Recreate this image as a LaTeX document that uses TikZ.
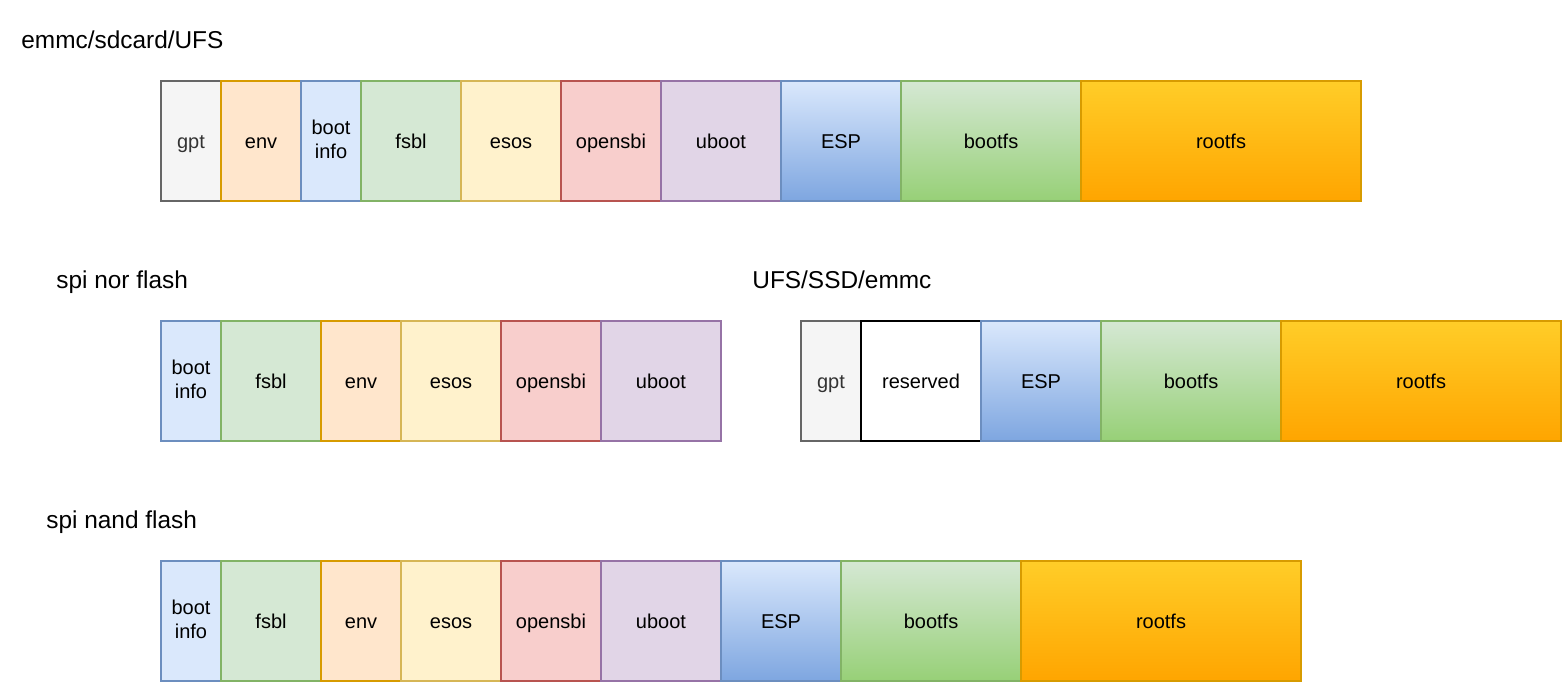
\documentclass[tikz,border=0pt]{standalone}
\usepackage{fontspec}
\setmainfont{Liberation Sans}
\usepackage{tikz}
\usetikzlibrary{positioning}

\definecolor{gptfill}{HTML}{F5F5F5}\definecolor{gptline}{HTML}{666666}\definecolor{gpttext}{HTML}{333333}
\definecolor{envfill}{HTML}{FFE6CC}\definecolor{envline}{HTML}{D79B00}
\definecolor{infofill}{HTML}{DAE8FC}\definecolor{infoline}{HTML}{6C8EBF}
\definecolor{fsblfill}{HTML}{D5E8D4}\definecolor{fsblline}{HTML}{82B366}
\definecolor{esosfill}{HTML}{FFF2CC}\definecolor{esosline}{HTML}{D6B656}
\definecolor{sbifill}{HTML}{F8CECC}\definecolor{sbiline}{HTML}{B85450}
\definecolor{ubootfill}{HTML}{E1D5E7}\definecolor{ubootline}{HTML}{9673A6}
\definecolor{espbot}{HTML}{7EA6E0}
\definecolor{bootfsbot}{HTML}{97D077}
\definecolor{roottop}{HTML}{FFCD28}\definecolor{rootbot}{HTML}{FFA500}

\newcommand{\partstrut}{\rule[-2.1pt]{0pt}{12pt}}

\begin{document}
\begin{tikzpicture}[x=0.5pt,y=-0.5pt,node distance=0pt,
            part/.style={draw,rectangle,line width=1pt,minimum height=60pt,inner sep=0pt,
              outer sep=0pt,align=center,font=\fontsize{10}{12}\selectfont,
              execute at begin node=\partstrut,execute at end node=\partstrut},
            title/.style={anchor=base west,inner sep=0pt,font=\fontsize{12.2}{14}\selectfont},
            gptpart/.style={part,fill=gptfill,draw=gptline,text=gpttext,minimum width=30pt},
            envpart/.style={part,fill=envfill,draw=envline,minimum width=40pt},
            infopart/.style={part,fill=infofill,draw=infoline,minimum width=30pt},
            fsblpart/.style={part,fill=fsblfill,draw=fsblline,minimum width=50pt},
            esospart/.style={part,fill=esosfill,draw=esosline,minimum width=50pt},
            sbipart/.style={part,fill=sbifill,draw=sbiline,minimum width=50pt},
            ubootpart/.style={part,fill=ubootfill,draw=ubootline,minimum width=60pt},
            resvpart/.style={part,fill=white,draw=black,line width=1.4pt,minimum width=60pt},
            esppart/.style={part,top color=infofill,bottom color=espbot,draw=infoline,minimum width=60pt},
            bootfspart/.style={part,top color=fsblfill,bottom color=bootfsbot,draw=fsblline,minimum width=90pt},
            rootpart/.style={part,top color=roottop,bottom color=rootbot,draw=envline,minimum width=140pt}]

            \useasboundingbox (0,0) rectangle (1562,682);

            % emmc/sdcard/UFS
            \node[title] (t1) at (21,48) {emmc/sdcard/UFS};
            \node[gptpart,anchor=north west] (a1) at (161,81) {gpt};
            \node[envpart] (a2) [right=of a1] {env};
            \node[infopart] (a3) [right=of a2] {boot\\info};
            \node[fsblpart] (a4) [right=of a3] {fsbl};
            \node[esospart] (a5) [right=of a4] {esos};
            \node[sbipart] (a6) [right=of a5] {opensbi};
            \node[ubootpart] (a7) [right=of a6] {uboot};
            \node[esppart] (a8) [right=of a7] {ESP};
            \node[bootfspart] (a9) [right=of a8] {bootfs};
            \node[rootpart] (a10) [right=of a9] {rootfs};

            % spi nor flash
            \node[title] (t2) at (56,288) {spi nor flash};
            \node[infopart,anchor=north west] (b1) at (161,321) {boot\\info};
            \node[fsblpart] (b2) [right=of b1] {fsbl};
            \node[envpart] (b3) [right=of b2] {env};
            \node[esospart] (b4) [right=of b3] {esos};
            \node[sbipart] (b5) [right=of b4] {opensbi};
            \node[ubootpart] (b6) [right=of b5] {uboot};

            % UFS/SSD/emmc
            \node[title] (t3) at (752,288) {UFS/SSD/emmc};
            \node[gptpart,anchor=north west] (c1) at (801,321) {gpt};
            \node[resvpart] (c2) [right=of c1] {reserved};
            \node[esppart] (c3) [right=of c2] {ESP};
            \node[bootfspart] (c4) [right=of c3] {bootfs};
            \node[rootpart] (c5) [right=of c4] {rootfs};

            % spi nand flash
            \node[title] (t4) at (46,528) {spi nand flash};
            \node[infopart,anchor=north west] (d1) at (161,561) {boot\\info};
            \node[fsblpart] (d2) [right=of d1] {fsbl};
            \node[envpart] (d3) [right=of d2] {env};
            \node[esospart] (d4) [right=of d3] {esos};
            \node[sbipart] (d5) [right=of d4] {opensbi};
            \node[ubootpart] (d6) [right=of d5] {uboot};
            \node[esppart] (d7) [right=of d6] {ESP};
            \node[bootfspart] (d8) [right=of d7] {bootfs};
            \node[rootpart] (d9) [right=of d8] {rootfs};
          \end{tikzpicture}
\end{document}
